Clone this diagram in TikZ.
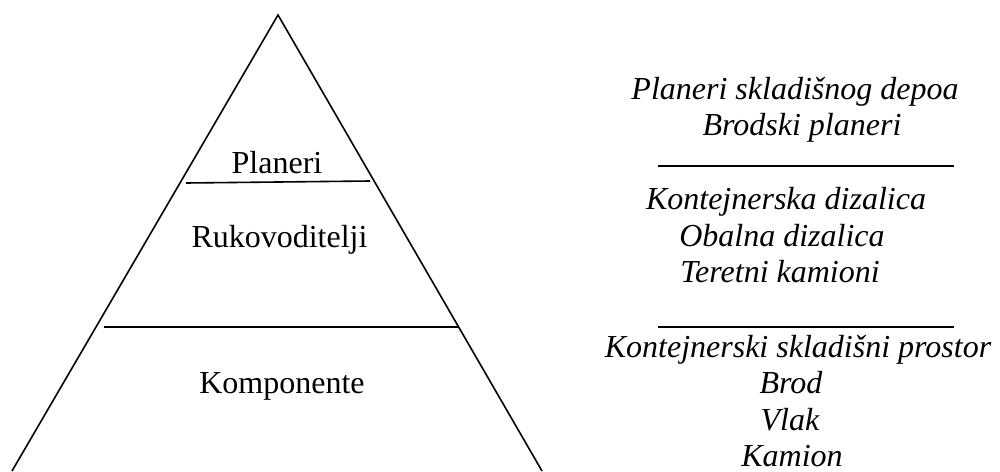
\documentclass[tikz,border=0pt]{standalone}
\usepackage{fontspec}
\setmainfont{Liberation Serif}
\tikzset{
  edge/.style={line width=1.6pt, black},
  label/.style={anchor=base, inner sep=0pt, font=\fontsize{32}{36}\selectfont},
  item/.style={label, font=\fontsize{32}{36}\selectfont\itshape}
}
\begin{document}
\begin{tikzpicture}[x=1pt, y=-1pt]
  \useasboundingbox (0,0) rectangle (1000,471);
  % pyramid outline
  \coordinate (apex) at (278,15);
  \coordinate (bl) at (12,471);
  \coordinate (br) at (542,471);
  \draw[edge] (bl) -- (apex) -- (br);
  % level dividers
  \coordinate (p1) at (186,183);
  \coordinate (p2) at (370,181);
  \coordinate (r1) at (104,327);
  \coordinate (r2) at (458,327);
  \draw[edge] (p1) -- (p2);
  \draw[edge] (r1) -- (r2);
  % level names
  \node[label] (planeri) at (277,173) {Planeri};
  \node[label] (ruk) at (279.5,247) {Rukovoditelji};
  \node[label] (komp) at (282,393) {Komponente};
  % examples per level
  \node[item] (a1) at (795,99) {Planeri skladišnog depoa};
  \node[item] (a2) at (802,135) {Brodski planeri};
  \coordinate (s1a) at (658,166);
  \coordinate (s1b) at (954,166);
  \draw[edge] (s1a) -- (s1b);
  \node[item] (b1) at (786,209) {Kontejnerska dizalica};
  \node[item] (b2) at (782,246) {Obalna dizalica};
  \node[item] (b3) at (780,282) {Teretni kamioni};
  \coordinate (s2a) at (658,327);
  \coordinate (s2b) at (954,327);
  \draw[edge] (s2a) -- (s2b);
  \node[item] (c1) at (798,357) {Kontejnerski skladišni prostor};
  \node[item] (c2) at (791,393) {Brod};
  \node[item] (c3) at (790,430) {Vlak};
  \node[item] (c4) at (792,466) {Kamion};
\end{tikzpicture}
\end{document}
